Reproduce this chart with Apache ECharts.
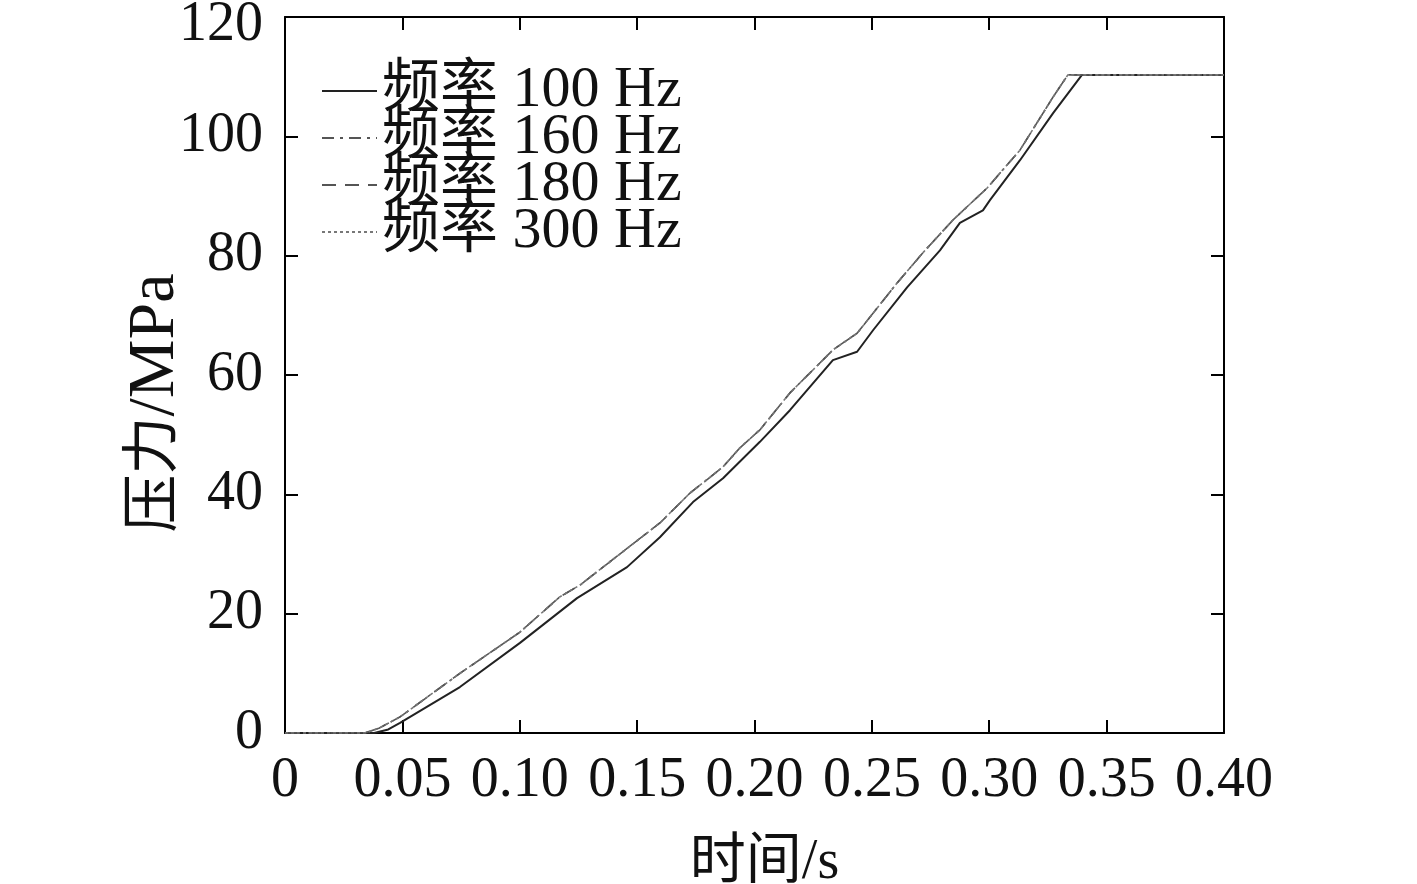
<!DOCTYPE html>
<html>
<head>
<meta charset="utf-8">
<title>压力-时间</title>
<script src="https://cdn.jsdelivr.net/npm/echarts@6/dist/echarts.min.js"></script>
<style>
  html, body { margin: 0; padding: 0; background: #fff; }
  #chart { width: 1417px; height: 884px; }
</style>
</head>
<body>
<div id="chart"></div>
<script>
// 频率 100 Hz（实线，偏右的那条）
const t100 = [0, 0.038, 0.044, 0.049, 0.0745, 0.1001, 0.1244, 0.1457, 0.1597, 0.1738, 0.1866, 0.2023, 0.2151, 0.2334, 0.2437, 0.2505, 0.265, 0.279, 0.2875, 0.2973, 0.3003, 0.3131, 0.3272, 0.3395, 0.40]
const p100 = [0, 0, 0.6, 1.7, 7.7, 15.1, 22.6, 27.8, 32.8, 38.7, 42.7, 48.8, 54.1, 62.5, 63.9, 67.5, 74.7, 80.9, 85.5, 87.6, 89.3, 96.0, 103.9, 110.3, 110.3]

// 160 / 180 / 300 Hz 三条曲线在图上基本重合
const tHigh = [0, 0.034, 0.040, 0.049, 0.0745, 0.1001, 0.117, 0.1257, 0.1384, 0.1597, 0.1725, 0.1866, 0.1938, 0.2023, 0.2151, 0.2334, 0.2437, 0.2607, 0.272, 0.2846, 0.299, 0.3131, 0.3272, 0.3335, 0.354, 0.40]
const p160 = [0, 0, 0.8, 2.7, 10.0, 16.9, 22.8, 24.8, 28.7, 35.2, 40.2, 44.6, 47.8, 50.8, 57.0, 64.2, 67.0, 75.4, 80.6, 86.0, 91.3, 97.7, 106.6, 110.3, 110.3, 110.3]
const p180 = p160
const p300 = p160

const seriesNames = ['频率 100 Hz', '频率 160 Hz', '频率 180 Hz', '频率 300 Hz']

const font = '"Liberation Serif", "Times New Roman", "Noto Sans CJK SC", serif'
const zip = (xs, ys) => xs.map((x, i) => [x, ys[i]])

const chart = echarts.init(document.getElementById('chart'))

// 四周都画框，刻度朝里
const axisLine = () => ({ show: true, onZero: false, lineStyle: { color: '#000', width: 2 } })
const axisTick = () => ({ show: true, inside: true, length: 13, lineStyle: { color: '#000', width: 2 } })

chart.setOption({
  backgroundColor: '#fff',
  animation: false,
  grid: { left: 285, right: 193, top: 17, bottom: 151, outerBoundsMode: 'none', containLabel: false },
  legend: {
    orient: 'vertical',
    left: 316,
    top: 57,
    itemWidth: 55,
    itemHeight: 14,
    itemGap: -11,
    itemStyle: { opacity: 0 },
    data: seriesNames,
    textStyle: { fontFamily: font, fontSize: 58, color: '#111' }
  },
  xAxis: [{
    type: 'value',
    min: 0,
    max: 0.4,
    interval: 0.05,
    name: '时间/s',
    nameLocation: 'middle',
    nameGap: 102,
    nameMoveOverlap: false,
    nameTextStyle: { fontFamily: font, fontSize: 56, color: '#111', padding: [0, 0, 0, 20] },
    axisLine: axisLine(),
    axisTick: axisTick(),
    splitLine: { show: false },
    axisLabel: {
      margin: 20,
      fontFamily: font,
      fontSize: 56,
      color: '#111',
      formatter: v => (v === 0 ? '0' : v.toFixed(2))
    }
  }, {
    type: 'value',
    position: 'top',
    min: 0,
    max: 0.4,
    interval: 0.05,
    axisLine: axisLine(),
    axisTick: axisTick(),
    axisLabel: { show: false },
    splitLine: { show: false }
  }],
  yAxis: [{
    type: 'value',
    min: 0,
    max: 120,
    interval: 20,
    name: '{c|压力}{l|/MPa}',
    nameLocation: 'middle',
    nameGap: 96,
    nameMoveOverlap: false,
    nameTextStyle: {
      color: '#111',
      padding: [0, 56, 0, 0],
      rich: {
        c: { fontFamily: font, fontSize: 58, color: '#111' },
        l: { fontFamily: font, fontSize: 66, color: '#111' }
      }
    },
    axisLine: axisLine(),
    axisTick: axisTick(),
    splitLine: { show: false },
    axisLabel: {
      margin: 22,
      fontFamily: font,
      fontSize: 56,
      color: '#111',
      // 最上面的 120 略往下放，免得出界
      formatter: v => (v === 120 ? '{t|120}' : String(v)),
      rich: { t: { fontFamily: font, fontSize: 56, color: '#111', padding: [16, 0, 0, 0] } }
    }
  }, {
    type: 'value',
    position: 'right',
    min: 0,
    max: 120,
    interval: 20,
    axisLine: axisLine(),
    axisTick: axisTick(),
    axisLabel: { show: false },
    splitLine: { show: false }
  }],
  series: [{
    name: seriesNames[0],
    type: 'line',
    symbol: 'none',
    data: zip(t100, p100),
    lineStyle: { color: '#222', width: 2, type: 'solid' },
    itemStyle: { color: '#222' }
  }, {
    name: seriesNames[1],
    type: 'line',
    symbol: 'none',
    data: zip(tHigh, p160),
    lineStyle: { color: '#555', width: 1.6, type: [12, 6, 3, 6] },
    itemStyle: { color: '#555' }
  }, {
    name: seriesNames[2],
    type: 'line',
    symbol: 'none',
    data: zip(tHigh, p180),
    lineStyle: { color: '#555', width: 1.6, type: [14, 9] },
    itemStyle: { color: '#555' }
  }, {
    name: seriesNames[3],
    type: 'line',
    symbol: 'none',
    data: zip(tHigh, p300),
    lineStyle: { color: '#777', width: 1.6, type: [3, 3] },
    itemStyle: { color: '#777' }
  }]
})
</script>
</body>
</html>
